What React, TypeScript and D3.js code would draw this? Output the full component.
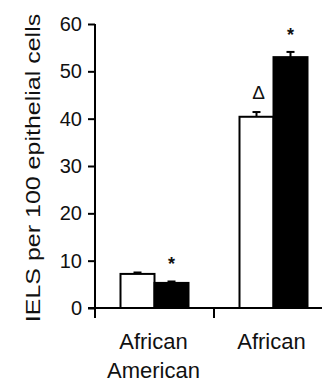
import React, { useEffect, useRef } from 'react';
import * as d3 from 'd3';

const groups = ["African American", "African"];
const groupLines = [["African", "American"], ["African"]];
const series = ["open", "filled"];
const openValues = [7.2, 40.4];
const filledValues = [5.3, 53.0];
const openErrors = [0.3, 1.0];
const filledErrors = [0.3, 1.1];
const openMarks = ["", "Δ"];
const filledMarks = ["*", "*"];
const yTicks = [0, 10, 20, 30, 40, 50, 60];
const yTitle = "IELS per 100 epithelial cells";

const FONT = "'Liberation Sans', Arial, Helvetica, sans-serif";

const App = () => {
    const chartRef = useRef<SVGSVGElement>(null);

    useEffect(() => {
        const svg = d3.select(chartRef.current);
        svg.selectAll("*").remove();

        const left = 95;
        const bottom = 308;

        const x = d3.scaleBand<string>()
            .domain(groups)
            .range([left, left + 238])
            .padding(0);

        const x1 = d3.scaleBand<string>()
            .domain(series)
            .range([0, x.bandwidth()])
            .paddingInner(0)
            .paddingOuter(0.75);

        const y = d3.scaleLinear()
            .domain([0, 60])
            .range([bottom, 24]);

        const rows = groups.map((g, i) => ([
            { group: g, key: "open", value: openValues[i], err: openErrors[i], mark: openMarks[i] },
            { group: g, key: "filled", value: filledValues[i], err: filledErrors[i], mark: filledMarks[i] },
        ])).flat();

        // Bars
        svg.append("g")
            .selectAll("rect")
            .data(rows)
            .enter().append("rect")
            .attr("x", d => x(d.group)! + x1(d.key)!)
            .attr("y", d => y(d.value))
            .attr("width", x1.bandwidth())
            .attr("height", d => y(0) - y(d.value))
            .attr("fill", d => d.key === "open" ? "#fff" : "#000")
            .attr("stroke", "#000")
            .attr("stroke-width", 2);

        // Error bars
        const eb = svg.append("g").attr("stroke", "#000").attr("stroke-width", 2);
        rows.forEach(d => {
            const cx = x(d.group)! + x1(d.key)! + x1.bandwidth() / 2;
            eb.append("line")
                .attr("x1", cx).attr("x2", cx)
                .attr("y1", y(d.value)).attr("y2", y(d.value + d.err));
            eb.append("line")
                .attr("x1", cx - 4).attr("x2", cx + 4)
                .attr("y1", y(d.value + d.err)).attr("y2", y(d.value + d.err));
        });

        // Significance marks
        svg.append("g")
            .selectAll("text")
            .data(rows.filter(d => d.mark))
            .enter().append("text")
            .attr("x", d => x(d.group)! + x1(d.key)! + x1.bandwidth() / 2 + (d.mark === "Δ" ? 2 : 0))
            .attr("y", d => d.mark === "Δ" ? y(d.value + d.err) - 13 : y(d.value + d.err) - 11)
            .attr("text-anchor", "middle")
            .attr("font-family", FONT)
            .attr("font-size", d => d.mark === "Δ" ? 19 : 18)
            .attr("font-weight", d => d.mark === "Δ" ? "normal" : "bold")
            .attr("fill", "#111")
            .text(d => d.mark);

        // Y axis
        const yAxis = svg.append("g")
            .attr("transform", `translate(${left},0)`)
            .call(d3.axisLeft(y).tickValues(yTicks).tickSize(7).tickPadding(6).tickSizeOuter(0));
        yAxis.select(".domain").remove();
        yAxis.selectAll("line").attr("stroke", "#000").attr("stroke-width", 2);
        yAxis.selectAll("text")
            .attr("font-family", FONT)
            .attr("font-size", 20)
            .attr("fill", "#111");
        svg.append("line")
            .attr("x1", left).attr("x2", left)
            .attr("y1", y(60)).attr("y2", bottom + 10)
            .attr("stroke", "#000").attr("stroke-width", 2);

        // X axis
        svg.append("line")
            .attr("x1", left - 7).attr("x2", 322)
            .attr("y1", bottom).attr("y2", bottom)
            .attr("stroke", "#000").attr("stroke-width", 2);
        svg.append("g")
            .selectAll("line")
            .data(groups.slice(1))
            .enter().append("line")
            .attr("x1", d => x(d)!).attr("x2", d => x(d)!)
            .attr("y1", bottom).attr("y2", bottom + 10)
            .attr("stroke", "#000").attr("stroke-width", 2);

        const lbl = svg.append("g")
            .attr("font-family", FONT)
            .attr("font-size", 22)
            .attr("fill", "#111")
            .attr("text-anchor", "middle");
        groups.forEach((g, i) => {
            const cx = x(g)! + x.bandwidth() / 2 - (i === 1 ? 2 : 1);
            const t = lbl.append("text").attr("x", cx).attr("y", 349);
            groupLines[i].forEach((line, j) => {
                t.append("tspan")
                    .attr("x", cx)
                    .attr("dy", j === 0 ? 0 : 29)
                    .text(line);
            });
        });

        // Y title
        svg.append("text")
            .attr("transform", "translate(40,168) rotate(-90) scale(1,0.84)")
            .attr("text-anchor", "middle")
            .attr("font-family", FONT)
            .attr("font-size", 25)
            .attr("fill", "#111")
            .text(yTitle);
    }, []);

    return (
        <svg
            ref={chartRef}
            width={327}
            height={390}
            style={{ position: "absolute", left: 0, top: 0, background: "#fff" }}
        ></svg>
    );
};

export default App;
